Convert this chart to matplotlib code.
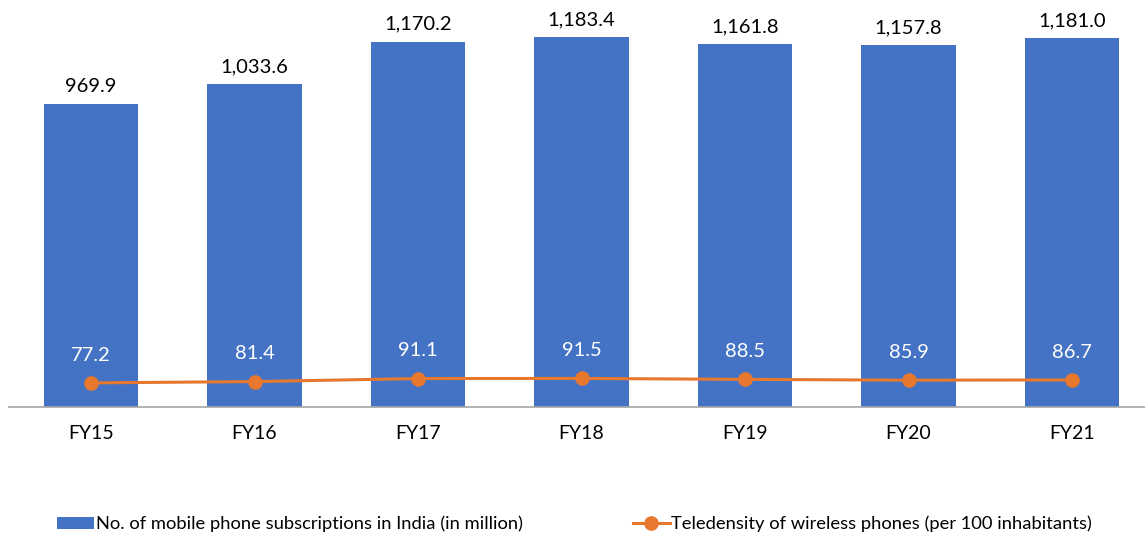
import numpy as np
import matplotlib.pyplot as plt
from matplotlib.patches import Patch
from matplotlib.lines import Line2D

# data
years = ['FY15', 'FY16', 'FY17', 'FY18', 'FY19', 'FY20', 'FY21']
subscriptions = [969.9, 1033.6, 1170.2, 1183.4, 1161.8, 1157.8, 1181.0]
teledensity = [77.2, 81.4, 91.1, 91.5, 88.5, 85.9, 86.7]

bar_color = '#4472C4'
line_color = '#E8782D'

plt.rcParams['font.family'] = ['Lato', 'DejaVu Sans']

fig = plt.figure(figsize=(11.45, 5.38), dpi=100)
ax = fig.add_axes([9.25 / 1145, (538 - 407) / 538, 1144.5 / 1145, 406 / 538])

x = np.arange(len(years))

ax.bar(x, subscriptions, width=0.575, color=bar_color, zorder=2)
ax.plot(x, teledensity, color=line_color, linewidth=2.2,
        marker='o', markersize=9.5, zorder=3)

# labels
for xi, v in zip(x, subscriptions):
    ax.text(xi, v + 28, f'{v:,.1f}', ha='center', va='bottom',
            fontsize=14.5, color='#000000')

for xi, v in zip(x, teledensity):
    ax.text(xi, v + 62, f'{v:.1f}', ha='center', va='bottom',
            fontsize=14.5, color='white', zorder=4)

ax.set_xlim(-0.5, len(years) - 0.5)
ax.set_ylim(0, 1300)

ax.set_xticks(x)
ax.set_xticklabels(years, fontsize=14)
ax.tick_params(axis='x', length=0, pad=13)
ax.set_yticks([])

for side in ['top', 'right', 'left']:
    ax.spines[side].set_visible(False)
ax.spines['bottom'].set_color('#A6A6A6')
ax.spines['bottom'].set_linewidth(1.2)

handles = [
    Patch(facecolor=bar_color, label='No. of mobile phone subscriptions in India (in million)'),
    Line2D([0], [0], color=line_color, linewidth=2.2, marker='o', markersize=9.5,
           label='Teledensity of wireless phones (per 100 inhabitants)'),
]
fig.legend(handles=handles, loc='center', bbox_to_anchor=(0.502, 1 - 524 / 538),
           ncol=2, frameon=False, fontsize=13.2, handlelength=2.0,
           handletextpad=0.1, columnspacing=6.0, handleheight=0.6)

plt.savefig('out.png', dpi=100)
